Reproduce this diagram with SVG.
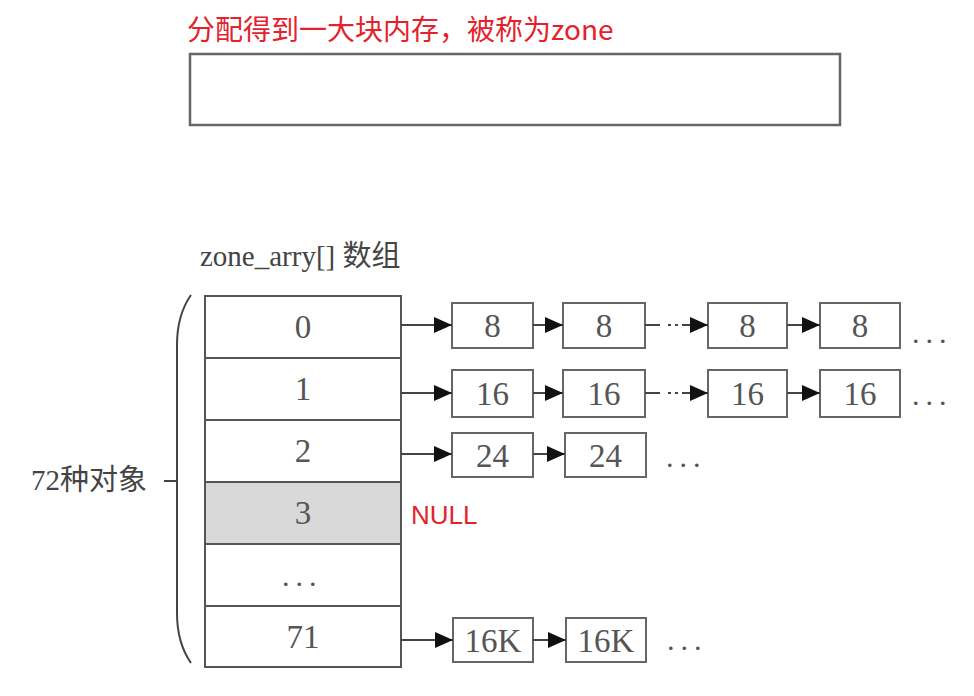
<svg xmlns="http://www.w3.org/2000/svg" width="974" height="696" viewBox="0 0 974 696">
<defs>
<style>
.red{fill:#e3222c;font-family:"Noto Sans CJK SC","Noto Sans",sans-serif;}
.lbl{fill:#444;font-family:"Liberation Serif","Noto Sans CJK SC",serif;}
.num{fill:#555;font-family:"Liberation Serif",serif;font-size:33px;text-anchor:middle;}
.cell{fill:#fff;stroke:#555;stroke-width:2;}
.box{fill:#fff;stroke:#666;stroke-width:2;}
.ln{stroke:#444;stroke-width:2;fill:none;}
.dots{fill:#555;font-family:"Liberation Serif",serif;font-size:30px;letter-spacing:6px;}
</style>
<marker id="ah" markerUnits="userSpaceOnUse" markerWidth="18" markerHeight="16" refX="18" refY="8" orient="auto">
<path d="M0,0 L18,8 L0,16 z" fill="#111"/>
</marker>
</defs>
<rect width="974" height="696" fill="#fff"/>

<g id="zone">
<text class="red" x="187" y="40" font-size="28">分配得到一大块内存，被称为zone</text>
<rect x="190" y="54" width="650" height="71" fill="#fff" stroke="#666" stroke-width="2.5"/>
</g>

<g id="array-title">
<text class="lbl" x="200" y="266" font-size="29">zone_arry[] 数组</text>
</g>

<g id="brace">
<path class="ln" d="M191,295 Q177,315 177,345 L177,613 Q177,643 191,663 M164,481 L177,481" stroke="#777" stroke-width="1.8"/>
<text class="lbl" x="31" y="490" font-size="29" fill="#555">72种对象</text>
</g>

<g id="array">
<g id="cell-0"><rect class="cell" x="205" y="296" width="196" height="62"/><text class="num" x="303" y="338">0</text></g>
<g id="cell-1"><rect class="cell" x="205" y="358" width="196" height="62"/><text class="num" x="303" y="400">1</text></g>
<g id="cell-2"><rect class="cell" x="205" y="420" width="196" height="62"/><text class="num" x="303" y="462">2</text></g>
<g id="cell-3"><rect class="cell" x="205" y="482" width="196" height="62" style="fill:#d9d9d9"/><text class="num" x="303" y="524">3</text></g>
<g id="cell-dots"><rect class="cell" x="205" y="544" width="196" height="62"/><text class="dots" x="282" y="586">...</text></g>
<g id="cell-71"><rect class="cell" x="205" y="606" width="196" height="61"/><text class="num" x="303" y="648">71</text></g>
</g>

<g id="null">
<text x="411" y="524" font-family="'Liberation Sans','Noto Sans',sans-serif" font-size="26" fill="#e3222c">NULL</text>
</g>

<g id="list-0">
<g id="n0a"><rect class="box" x="452" y="303" width="81" height="45"/><text class="num" x="492.5" y="337">8</text></g>
<g id="n0b"><rect class="box" x="563" y="303" width="82" height="45"/><text class="num" x="604" y="337">8</text></g>
<g id="n0c"><rect class="box" x="708" y="303" width="79" height="45"/><text class="num" x="747.5" y="337">8</text></g>
<g id="n0d"><rect class="box" x="820" y="303" width="80" height="45"/><text class="num" x="860" y="337">8</text></g>
<text class="dots" x="912" y="343">...</text>
</g>

<g id="list-1">
<g id="n1a"><rect class="box" x="452" y="370" width="81" height="47"/><text class="num" x="492.5" y="405">16</text></g>
<g id="n1b"><rect class="box" x="563" y="370" width="82" height="47"/><text class="num" x="604" y="405">16</text></g>
<g id="n1c"><rect class="box" x="708" y="370" width="79" height="47"/><text class="num" x="747.5" y="405">16</text></g>
<g id="n1d"><rect class="box" x="820" y="370" width="80" height="47"/><text class="num" x="860" y="405">16</text></g>
<text class="dots" x="912" y="405">...</text>
</g>

<g id="list-2">
<g id="n2a"><rect class="box" x="452" y="433" width="81" height="44"/><text class="num" x="492.5" y="467">24</text></g>
<g id="n2b"><rect class="box" x="565" y="433" width="81" height="44"/><text class="num" x="605.5" y="467">24</text></g>
<text class="dots" x="666" y="467">...</text>
</g>

<g id="list-71">
<g id="n71a"><rect class="box" x="453" y="618" width="80" height="44"/><text class="num" x="493" y="652">16K</text></g>
<g id="n71b"><rect class="box" x="566" y="618" width="80" height="44"/><text class="num" x="606" y="652">16K</text></g>
<text class="dots" x="667" y="650">...</text>
</g>

<g id="connectors" class="ln">
<line x1="401" y1="325" x2="452" y2="325" marker-end="url(#ah)"/>
<line x1="533" y1="325" x2="563" y2="325" marker-end="url(#ah)"/>
<path d="M645,325 L660,325" />
<path d="M668,325 L671,325 M675,325 L678,325" />
<line x1="682" y1="325" x2="708" y2="325" marker-end="url(#ah)"/>
<line x1="787" y1="325" x2="820" y2="325" marker-end="url(#ah)"/>

<line x1="401" y1="393" x2="452" y2="393" marker-end="url(#ah)"/>
<line x1="533" y1="393" x2="563" y2="393" marker-end="url(#ah)"/>
<path d="M645,393 L660,393" />
<path d="M668,393 L671,393 M675,393 L678,393" />
<line x1="682" y1="393" x2="708" y2="393" marker-end="url(#ah)"/>
<line x1="787" y1="393" x2="820" y2="393" marker-end="url(#ah)"/>

<line x1="401" y1="454" x2="452" y2="454" marker-end="url(#ah)"/>
<line x1="533" y1="454" x2="565" y2="454" marker-end="url(#ah)"/>

<line x1="401" y1="640" x2="453" y2="640" marker-end="url(#ah)"/>
<line x1="533" y1="640" x2="566" y2="640" marker-end="url(#ah)"/>
</g>
</svg>
